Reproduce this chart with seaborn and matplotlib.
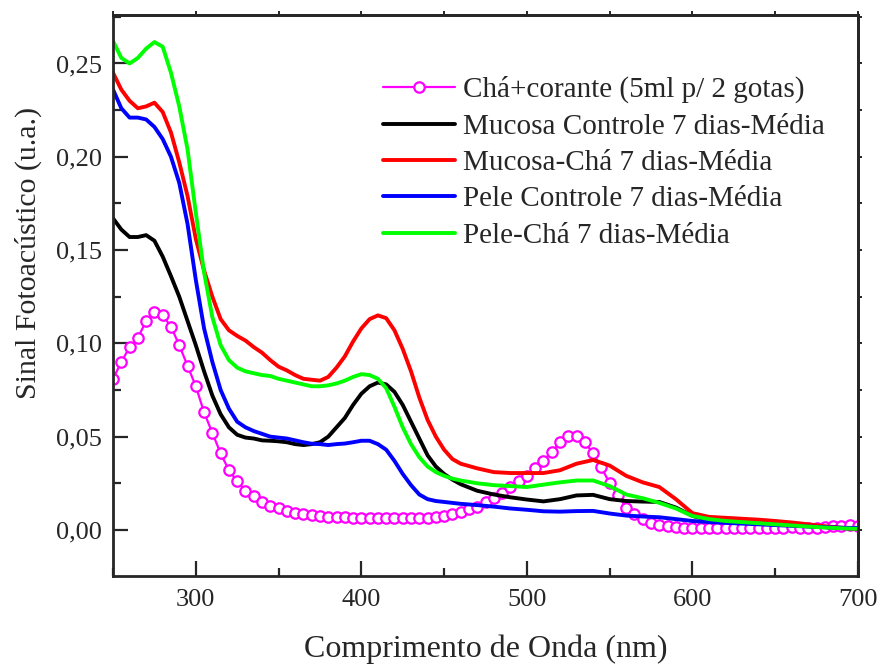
import numpy as np
import pandas as pd
import matplotlib
matplotlib.use("Agg")
import matplotlib.pyplot as plt
import seaborn as sns
from matplotlib.ticker import MultipleLocator, FixedLocator, FixedFormatter, NullFormatter

# ---------------- data ----------------
wl_cha = list(range(250, 705, 5))
cha_corante = [0.081, 0.090, 0.098, 0.103, 0.112, 0.117, 0.115, 0.109, 0.099, 0.088,
               0.077, 0.063, 0.052, 0.041, 0.032, 0.026, 0.021, 0.018, 0.015, 0.013,
               0.012, 0.010, 0.009, 0.0085, 0.008, 0.0075, 0.0072, 0.007, 0.0068, 0.0066,
               0.0065, 0.0064, 0.0063, 0.0062, 0.0062, 0.0062, 0.0063, 0.0064, 0.0066, 0.007,
               0.0075, 0.0083, 0.0095, 0.011, 0.0125, 0.015, 0.0172, 0.0198, 0.0228, 0.026,
               0.029, 0.033, 0.037, 0.042, 0.047, 0.0505, 0.0505, 0.047, 0.041, 0.0335,
               0.025, 0.0185, 0.012, 0.0088, 0.006, 0.0037, 0.0029, 0.0021, 0.0016, 0.0013,
               0.0012, 0.0011, 0.001, 0.001, 0.001, 0.001, 0.001, 0.001, 0.0012, 0.0012,
               0.0013, 0.0013, 0.0015, 0.0012, 0.001, 0.0008, 0.0015, 0.002, 0.0022, 0.0025,
               0.0022]

wl = list(range(250, 465, 5)) + list(range(470, 710, 10))

mucosa_controle = [0.167, 0.161, 0.157, 0.157, 0.158, 0.155, 0.1465, 0.136, 0.125, 0.112,
                   0.099, 0.085, 0.072, 0.062, 0.055, 0.051, 0.0495, 0.049, 0.048, 0.0478,
                   0.0475, 0.047, 0.046, 0.0455, 0.046, 0.047, 0.050, 0.055, 0.060, 0.067,
                   0.073, 0.077, 0.079, 0.078, 0.074, 0.067, 0.058, 0.049, 0.040, 0.034,
                   0.030, 0.027, 0.0245,
                   0.021, 0.019, 0.0175, 0.0163, 0.0153, 0.0165, 0.0185, 0.0188, 0.0165, 0.0155,
                   0.0152, 0.015, 0.012, 0.0075, 0.0052, 0.0045, 0.004, 0.0035, 0.003, 0.0025,
                   0.002, 0.0015, 0.001, 0.0006]

mucosa_cha = [0.245, 0.236, 0.230, 0.226, 0.227, 0.229, 0.224, 0.213, 0.197, 0.179,
              0.156, 0.139, 0.125, 0.113, 0.107, 0.104, 0.1015, 0.098, 0.095, 0.091,
              0.0875, 0.0855, 0.083, 0.081, 0.0805, 0.080, 0.082, 0.087, 0.093, 0.101,
              0.108, 0.113, 0.115, 0.1135, 0.107, 0.097, 0.085, 0.071, 0.059, 0.050,
              0.043, 0.038, 0.0355,
              0.033, 0.031, 0.0305, 0.0305, 0.0305, 0.032, 0.0355, 0.0375, 0.0345, 0.029,
              0.0255, 0.023, 0.0165, 0.009, 0.007, 0.0065, 0.006, 0.0055, 0.0048, 0.004,
              0.003, 0.002, 0.0012, 0.0006]

pele_controle = [0.236, 0.226, 0.221, 0.221, 0.220, 0.216, 0.2095, 0.200, 0.186, 0.164,
                 0.134, 0.108, 0.090, 0.075, 0.065, 0.058, 0.055, 0.053, 0.0515, 0.050,
                 0.0495, 0.049, 0.048, 0.047, 0.0462, 0.046, 0.0455, 0.046, 0.0463, 0.047,
                 0.0478, 0.0478, 0.046, 0.043, 0.037, 0.030, 0.024, 0.019, 0.0165, 0.0155,
                 0.015, 0.0145, 0.014,
                 0.0133, 0.0125, 0.0115, 0.0108, 0.010, 0.0098, 0.0101, 0.0102, 0.0088, 0.0077,
                 0.0072, 0.0068, 0.0058, 0.0048, 0.0042, 0.0038, 0.0034, 0.003, 0.0026, 0.0022,
                 0.0018, 0.0015, 0.0012, 0.001]

pele_cha = [0.262, 0.253, 0.250, 0.253, 0.258, 0.2615, 0.259, 0.245, 0.227, 0.204,
            0.170, 0.138, 0.114, 0.099, 0.091, 0.087, 0.085, 0.084, 0.083, 0.0825,
            0.081, 0.080, 0.079, 0.078, 0.077, 0.077, 0.0775, 0.0785, 0.080, 0.082,
            0.0835, 0.083, 0.081, 0.076, 0.066, 0.055, 0.046, 0.039, 0.034, 0.031,
            0.029, 0.0275, 0.0265,
            0.025, 0.024, 0.0235, 0.023, 0.0243, 0.0255, 0.0265, 0.0265, 0.0235, 0.019,
            0.017, 0.0145, 0.0115, 0.0075, 0.0058, 0.0048, 0.0042, 0.0036, 0.003, 0.0024,
            0.0018, 0.0013, 0.0009, 0.0006]

labels = ["Chá+corante (5ml p/ 2 gotas)", "Mucosa Controle 7 dias-Média",
          "Mucosa-Chá 7 dias-Média", "Pele Controle 7 dias-Média", "Pele-Chá 7 dias-Média"]

y_ticks = [0.00, 0.05, 0.10, 0.15, 0.20, 0.25]
y_tick_labels = ["0,00", "0,05", "0,10", "0,15", "0,20", "0,25"]
x_ticks = [300, 400, 500, 600, 700]
x_tick_labels = ["300", "400", "500", "600", "700"]

# ---------------- style ----------------
sns.set_style("ticks")
plt.rcParams["font.family"] = ["Liberation Serif", "DejaVu Serif"]
plt.rcParams["xtick.direction"] = "in"
plt.rcParams["ytick.direction"] = "in"

fig = plt.figure(figsize=(8.77, 6.66), dpi=100)
ax = fig.add_axes([0.1289, 0.1351, 0.8494, 0.8424])

lw = 2.8
sns.lineplot(x=wl_cha, y=cha_corante, ax=ax, color="#FF00FF", lw=1.6,
             marker="o", markersize=7.5, markerfacecolor="white",
             markeredgecolor="#FF00FF", markeredgewidth=1.6, label=labels[0])
sns.lineplot(x=wl, y=mucosa_controle, ax=ax, color="#000000", lw=lw, label=labels[1])
sns.lineplot(x=wl, y=mucosa_cha, ax=ax, color="#FF0000", lw=lw, label=labels[2])
sns.lineplot(x=wl, y=pele_controle, ax=ax, color="#0000FF", lw=lw, label=labels[3])
sns.lineplot(x=wl, y=pele_cha, ax=ax, color="#00FF00", lw=lw, label=labels[4])

ax.set_xlim(250, 700)
ax.set_ylim(-0.0247, 0.276)
ax.xaxis.set_major_locator(FixedLocator(x_ticks))
ax.xaxis.set_major_formatter(FixedFormatter(x_tick_labels))
ax.xaxis.set_minor_locator(MultipleLocator(50))
ax.yaxis.set_major_locator(FixedLocator(y_ticks))
ax.yaxis.set_major_formatter(FixedFormatter(y_tick_labels))
ax.yaxis.set_minor_locator(MultipleLocator(0.025))

for s in ax.spines.values():
    s.set_linewidth(2.0)
    s.set_visible(True)
ax.tick_params(which="major", length=11, width=1.6, labelsize=19, pad=8)
ax.tick_params(axis="x", which="major", pad=9)
ax.tick_params(which="minor", length=5.5, width=1.6)

# short outward ticks on the top and right frame
sec_x = ax.secondary_xaxis("top")
sec_x.xaxis.set_major_locator(FixedLocator(x_ticks))
sec_x.xaxis.set_minor_locator(MultipleLocator(50))
sec_x.xaxis.set_major_formatter(NullFormatter())
sec_x.tick_params(which="both", direction="out", length=3, width=1.4)
sec_x.spines["top"].set_linewidth(2.0)
sec_y = ax.secondary_yaxis("right")
sec_y.yaxis.set_major_locator(FixedLocator(y_ticks))
sec_y.yaxis.set_minor_locator(MultipleLocator(0.025))
sec_y.yaxis.set_major_formatter(NullFormatter())
sec_y.tick_params(which="both", direction="out", length=3, width=1.4)
sec_y.spines["right"].set_linewidth(2.0)

ax.set_xlabel("Comprimento de Onda (nm)", fontsize=23, labelpad=17)
ax.set_ylabel("Sinal Fotoacústico (u.a.)", fontsize=21.5)
ax.yaxis.set_label_coords(-0.095, 0.576)

leg = ax.legend(loc="upper left", bbox_to_anchor=(0.3624, 0.891), frameon=False,
                fontsize=21, handlelength=2.47, handletextpad=0.27,
                labelspacing=0.34, borderpad=0.0, borderaxespad=0.0)

fig.savefig("out.png", dpi=100)
